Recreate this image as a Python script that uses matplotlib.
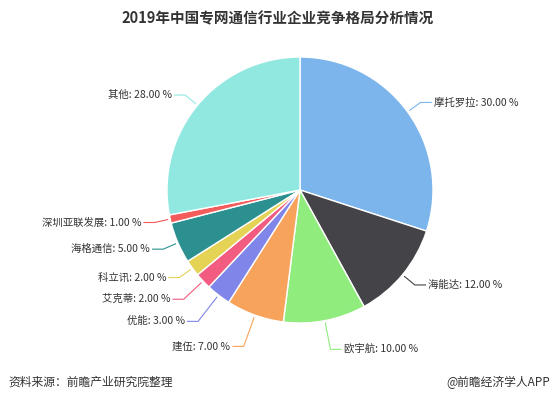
import matplotlib
matplotlib.use("Agg")
import matplotlib.pyplot as plt
import numpy as np

plt.rcParams['font.family'] = ['Noto Sans CJK SC', 'DejaVu Sans']

labels = ["摩托罗拉", "海能达", "欧宇航", "建伍", "优能", "艾克蒂", "科立讯", "海格通信", "深圳亚联发展", "其他"]
values = [30.0, 12.0, 10.0, 7.0, 3.0, 2.0, 2.0, 5.0, 1.0, 28.0]
colors = ["#7cb5ec", "#434348", "#90ed7d", "#f7a35c", "#8085e9", "#f15c80",
          "#e4d354", "#2b908f", "#f45b5b", "#91e8e1"]
label_r = [1.12, 1.12, 1.22, 1.25, 1.25, 1.2, 1.12, 1.12, 1.12, 1.12]

fig = plt.figure(figsize=(5.56, 4.0), dpi=100)
ax = fig.add_axes([(300-133)/556, (400-190-133)/400, 266/556, 266/400])
wedges, _ = ax.pie(values, colors=colors, startangle=90, counterclock=False,
                   wedgeprops=dict(edgecolor="white", linewidth=1))
ax.set_aspect('equal')
ax.set_xlim(-1, 1); ax.set_ylim(-1, 1)

for w, lab, v, c, r2 in zip(wedges, labels, values, colors, label_r):
    ang = np.deg2rad((w.theta1 + w.theta2) / 2)
    x, y = np.cos(ang), np.sin(ang)
    side = 1 if x >= 0 else -1
    r1 = 1.02
    ex, ey = r2 * x, r2 * y
    ax.plot([r1*x, ex, ex + side*0.08], [r1*y, ey, ey], color=c, lw=0.8, clip_on=False)
    ax.text(ex + side*0.1, ey, f"{lab}: {v:.2f} %", ha="left" if side > 0 else "right",
            va="center", fontsize=7.5, color="#333333")

fig.text(0.5, 0.955, "2019年中国专网通信行业企业竞争格局分析情况", ha="center", va="center",
         fontsize=10.5, fontweight="bold", color="#333333")
fig.text(0.015, 0.045, "资料来源：前瞻产业研究院整理", ha="left", va="center", fontsize=8.5, color="#333333")
fig.text(0.99, 0.045, "@前瞻经济学人APP", ha="right", va="center", fontsize=8.5, color="#333333")
fig.savefig("out.png", dpi=100)
